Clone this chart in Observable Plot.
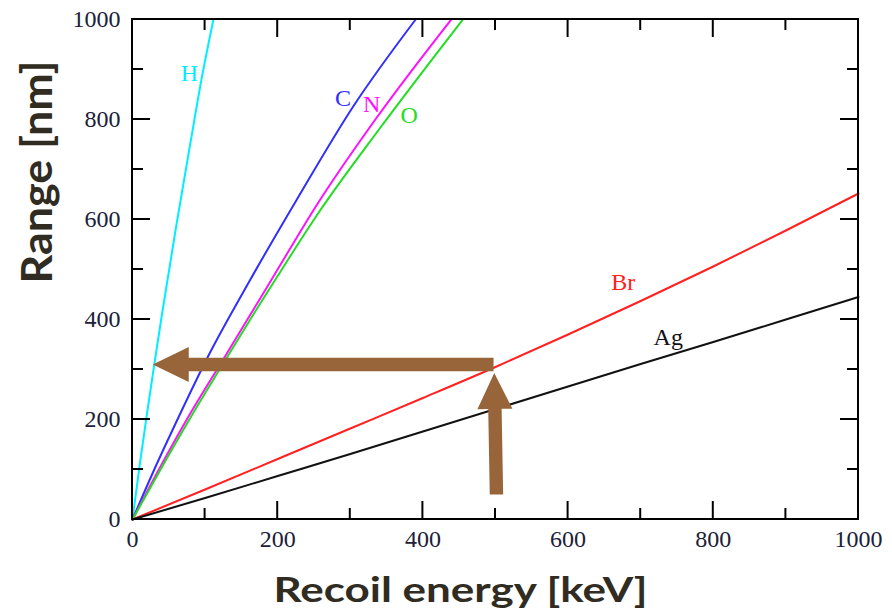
<!DOCTYPE html>
<html><head><meta charset="utf-8">
<script src="https://cdn.jsdelivr.net/npm/d3@7"></script>
<script src="https://cdn.jsdelivr.net/npm/@observablehq/plot@0.6"></script>
<style>
html,body{margin:0;padding:0;background:#fff;}
#chart{width:892px;height:613px;overflow:hidden;}
</style></head><body><div id="chart"></div>
<script>
// ---- data (energy in keV, range in nm) ----
const hEnergy  = [0, 10, 20, 30, 40, 60, 80, 95, 111.5];
const hRange   = [0, 110, 212, 310, 405, 585, 755, 880, 1000];
const cEnergy  = [0, 30, 60, 104, 162, 226, 304, 390];
const cRange   = [0, 100, 194, 326, 479, 639, 826, 1000];
const nEnergy  = [0, 36, 74, 127, 157, 190, 256, 336, 439];
const nRange   = [0, 99, 198, 325, 397, 476, 634, 803, 1000];
const oEnergy  = [0, 39, 80, 136, 166, 199, 257, 340, 455];
const oRange   = [0, 101, 204, 338, 409, 485, 615, 781, 1000];
const brEnergy = [0, 100, 200, 300, 400, 500, 600, 700, 800, 900, 1000];
const brRange  = [0, 60, 121, 182, 243, 305, 370, 437, 506, 578, 652];
const agEnergy = [0, 100, 200, 300, 400, 500, 600, 700, 800, 900, 1000];
const agRange  = [0, 43, 87, 131, 176, 221, 266, 311, 355, 400, 445];

const seriesNames  = ["H", "C", "N", "O", "Br", "Ag"];
const seriesColors = ["#00eeff", "#2f2fff", "#ff10ff", "#22dd22", "#ff2020", "#111111"];
const seriesEnergy = [hEnergy, cEnergy, nEnergy, oEnergy, brEnergy, agEnergy];
const seriesRange  = [hRange, cRange, nRange, oRange, brRange, agRange];

const labelEnergy = [78.5, 290, 329.5, 381, 676, 738];
const labelRange  = [892, 842, 831, 809, 474, 364];

const xMajorTicks = [0, 200, 400, 600, 800, 1000];
const xMinorTicks = [100, 300, 500, 700, 900];
const yMajorTicks = [0, 200, 400, 600, 800, 1000];
const yMinorTicks = [100, 300, 500, 700, 900];

const xTitle = "Recoil energy [keV]";
const yTitle = "Range [nm]";

// annotation arrows (data coordinates)
const arrowStartEnergy = [498, 502];
const arrowStartRange  = [309, 49];
const arrowEndEnergy   = [28.6, 499];
const arrowEndRange    = [309, 292];

// ---- build ----
const lineMarks = seriesNames.map((name, k) =>
  Plot.line(seriesEnergy[k].map((e, i) => ({energy: e, range: seriesRange[k][i]})), {
    x: "energy", y: "range", stroke: seriesColors[k], strokeWidth: 2, curve: "monotone-x"
  })
);

const labelRows = seriesNames.map((name, k) => ({name, energy: labelEnergy[k], range: labelRange[k], color: seriesColors[k]}));
const labelMarks = labelRows.map(d =>
  Plot.text([d], {x: "energy", y: "range", text: "name", fill: d.color, fontSize: 24, fontFamily: "Liberation Serif"})
);

function frameTicks(index, scales, values, dims) {
  const {x, y} = scales;
  const L = dims.marginLeft, R = dims.width - dims.marginRight;
  const T = dims.marginTop, B = dims.height - dims.marginBottom;
  const g = d3.create("svg:g").attr("stroke", "#000").attr("stroke-width", 2).attr("fill", "none");
  const add = (x1, y1, x2, y2) => g.append("line").attr("x1", x1).attr("y1", y1).attr("x2", x2).attr("y2", y2);
  for (const [ticks, len] of [[xMajorTicks, 18], [xMinorTicks, 11]]) {
    for (const v of ticks) { const p = x(v); add(p, B, p, B - len); add(p, T, p, T + len); }
  }
  for (const [ticks, len] of [[yMajorTicks, 18], [yMinorTicks, 11]]) {
    for (const v of ticks) { const p = y(v); add(L, p, L + len, p); add(R, p, R - len, p); }
  }
  g.append("rect").attr("x", L).attr("y", T).attr("width", R - L).attr("height", B - T);
  return g.node();
}

function arrows(index, scales) {
  const {x, y} = scales;
  const headLen = 36, headHalf = 17.5, shaftHalf = 6.7;
  const g = d3.create("svg:g").attr("fill", "#98653a").attr("stroke", "none");
  arrowStartEnergy.forEach((_, i) => {
    const x0 = x(arrowStartEnergy[i]), y0 = y(arrowStartRange[i]);
    const x1 = x(arrowEndEnergy[i]), y1 = y(arrowEndRange[i]);
    const L = Math.hypot(x1 - x0, y1 - y0);
    const dx = (x1 - x0) / L, dy = (y1 - y0) / L;
    const px = -dy, py = dx;
    const bx = x1 - dx * headLen, by = y1 - dy * headLen;
    const pts = [
      [x0 + px * shaftHalf, y0 + py * shaftHalf],
      [bx + px * shaftHalf, by + py * shaftHalf],
      [bx + px * headHalf, by + py * headHalf],
      [x1, y1],
      [bx - px * headHalf, by - py * headHalf],
      [bx - px * shaftHalf, by - py * shaftHalf],
      [x0 - px * shaftHalf, y0 - py * shaftHalf]
    ];
    g.append("path").attr("d", "M" + pts.map(p => p.join(",")).join("L") + "Z");
  });
  return g.node();
}

const plot = Plot.plot({
  width: 892, height: 613,
  marginLeft: 132, marginRight: 34, marginTop: 19, marginBottom: 94,
  x: {domain: [0, 1000]},
  y: {domain: [0, 1000]},
  style: {fontFamily: "Liberation Serif", fontSize: "24px", color: "#202038", background: "#ffffff"},
  marks: [
    Plot.axisX({ticks: xMajorTicks, tickSize: 0, tickPadding: 10, label: null, tickFormat: d => String(d)}),
    Plot.axisY({ticks: yMajorTicks, tickSize: 0, tickPadding: 12, label: null, tickFormat: d => String(d)}),
    ...lineMarks,
    ...labelMarks,
    arrows,
    frameTicks,
    Plot.text([xTitle], {text: d => d, frameAnchor: "bottom", dx: -35, dy: 71, lineAnchor: "middle",
      fontSize: 35, fontWeight: "bold", fontFamily: "Lato", fill: "#302c22", className: "xtitle"}),
    Plot.text([yTitle], {text: d => d, frameAnchor: "left", dx: -93.5, dy: 14, rotate: -90, lineAnchor: "middle",
      fontSize: 42, fontWeight: "bold", fontFamily: "Lato", fill: "#302c22", className: "ytitle"})
  ]
});
document.getElementById("chart").append(plot);

// fit title widths to the reference lengths
function fit(cls, target) {
  const t = plot.querySelector("." + cls + " text");
  if (!t) return;
  const w = t.getComputedTextLength();
  if (w > 0 && Math.abs(w - target) > 2) {
    t.setAttribute("textLength", target);
    t.setAttribute("lengthAdjust", "spacingAndGlyphs");
  }
}
fit("xtitle", 374);
fit("ytitle", 223);
</script>
</body></html>
